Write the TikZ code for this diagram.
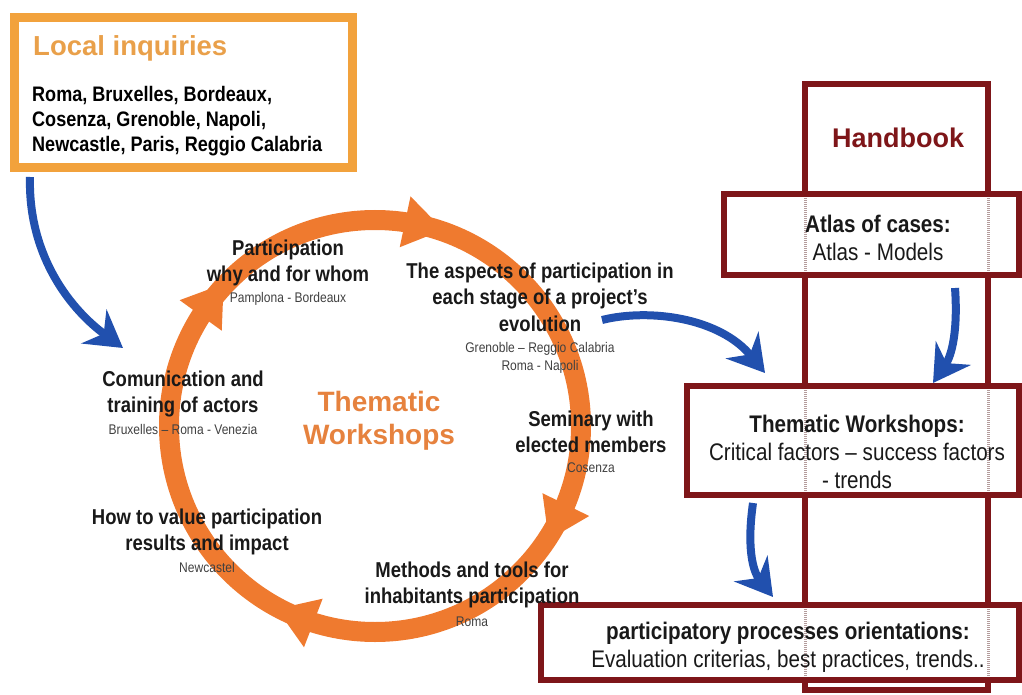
\documentclass[tikz,border=0pt]{standalone}
\usepackage{fontspec}
\setmainfont{Liberation Sans}
\newfontfamily\narrowfont[FakeStretch=0.86]{Liberation Sans}
\usetikzlibrary{arrows.meta}

\definecolor{ringorange}{HTML}{EF7A2F}
\definecolor{boxorange}{HTML}{F2A23C}
\definecolor{titleorange}{HTML}{E9A04A}
\definecolor{themeorange}{HTML}{E6823E}
\definecolor{hbred}{HTML}{7E1619}
\definecolor{flowblue}{HTML}{2150AE}
\definecolor{seamgray}{HTML}{B49C9C}

\tikzset{
  ringline/.style={draw=ringorange, line width=20pt},
  flow/.style={draw=flowblue, line width=8pt,
    -{Stealth[length=36pt,width=42pt,inset=12pt]}},
  redbox/.style={draw=hbred, line width=6pt, fill=white, outer sep=0pt},
  seam/.style={draw=seamgray, line width=3pt, dash pattern=on 1pt off 1pt},
  topic/.style={inner sep=0pt, align=center, text=black!90,
    font=\narrowfont\bfseries\fontsize{21.5}{26.5}\selectfont},
  place/.style={inner sep=0pt, align=center, text=black!75,
    font=\narrowfont\fontsize{14}{18}\selectfont},
  boxtext/.style={inner sep=0pt, align=center, text=black!90,
    font=\narrowfont\fontsize{24}{28}\selectfont},
}

\begin{document}
\begin{tikzpicture}[x=1pt,y=1pt]
\useasboundingbox (0,0) rectangle (1022,-695);

% local inquiries
\node[draw=boxorange, line width=9pt, outer sep=0pt,
  minimum width=338pt, minimum height=150pt] (local) at (183,-93) {};
\node[inner sep=0pt, anchor=west, text=titleorange,
  font=\bfseries\fontsize{27.5}{33}\selectfont] (localtitle) at (33,-48) {Local inquiries};
\node[inner sep=0pt, anchor=west, align=left,
  font=\narrowfont\bfseries\fontsize{21}{25}\selectfont] (localcities) at (32,-121)
  {Roma, Bruxelles, Bordeaux,\\Cosenza, Grenoble, Napoli,\\Newcastle, Paris, Reggio Calabria};

% workshop cycle
\coordinate (ringc) at (375,-426);
\draw[ringline] (ringc) circle[radius=206];
\foreach \a in {78,144,-26,-111}
  \fill[ringorange, shift={(ringc)}, rotate=\a] (180,13) -- (232,13) -- (206,-26) -- cycle;

% handbook
\node[redbox, minimum width=183pt, minimum height=606pt] (column) at (896.5,-387) {};
\node[redbox, minimum width=295pt, minimum height=81pt] (atlas) at (871.5,-234.5) {};
\node[redbox, minimum width=332pt, minimum height=109pt] (them) at (853,-440.5) {};
\node[redbox, minimum width=478pt, minimum height=75pt] (orient) at (780,-642.5) {};
\foreach \b in {atlas,them,orient} {
  \draw[seam, shorten >=4pt, shorten <=4pt] (column.west |- \b.north) -- (column.west |- \b.south);
  \draw[seam, shorten >=4pt, shorten <=4pt] (column.east |- \b.north) -- (column.east |- \b.south);
}

\node[inner sep=0pt, text=hbred, font=\bfseries\fontsize{27}{33}\selectfont]
  (handbook) at (898,-138) {Handbook};
\node[boxtext] (atlastext) at (878,-238) {\textbf{Atlas of cases:}\\Atlas - Models};
\node[boxtext] (themtext) at (857,-452) {\textbf{Thematic Workshops:}\\Critical factors – success factors\\- trends};
\node[boxtext] (orienttext) at (788,-647) {\textbf{participatory processes orientations:}\\Evaluation criterias, best practices, trends..};

% flows
\coordinate (a1s) at (30,-177);
\coordinate (a1e) at (123,-348);
\coordinate (a2s) at (602,-320);
\coordinate (a2e) at (765,-373);
\coordinate (a3s) at (955,-288);
\coordinate (a3e) at (933,-383);
\coordinate (a4s) at (753,-503);
\coordinate (a4e) at (773,-597);
\draw[flow] (a1s) .. controls (28,-250) and (65,-305) .. (a1e);
\draw[flow] (a2s) .. controls (650,-308) and (720,-318) .. (a2e);
\draw[flow] (a3s) .. controls (958,-330) and (952,-355) .. (a3e);
\draw[flow] (a4s) .. controls (747,-545) and (752,-570) .. (a4e);

% topics round the cycle
\node[inner sep=0pt, align=center, text=themeorange,
  font=\bfseries\fontsize{28}{33}\selectfont] (cycle) at (379,-421) {Thematic\\Workshops};

\node[topic] (why) at (288,-263) {Participation\\why and for whom};
\node[place] (whycity) at (288,-299) {Pamplona - Bordeaux};
\node[topic] (stage) at (540,-297) {The aspects of participation in\\each stage of a project’s\\evolution};
\node[place] (stagecity) at (540,-358) {Grenoble – Reggio Calabria\\Roma - Napoli};
\node[topic] (train) at (183,-394) {Comunication and\\training of actors};
\node[place] (traincity) at (183,-429) {Bruxelles – Roma - Venezia};
\node[topic] (elect) at (591,-432) {Seminary with\\elected members};
\node[place] (electcity) at (591,-468) {Cosenza};
\node[topic] (value) at (207,-532) {How to value participation\\results and impact};
\node[place] (valuecity) at (207,-567) {Newcastel};
\node[topic] (tools) at (472,-585) {Methods and tools for\\inhabitants participation};
\node[place] (toolscity) at (472,-622) {Roma};
\end{tikzpicture}
\end{document}
